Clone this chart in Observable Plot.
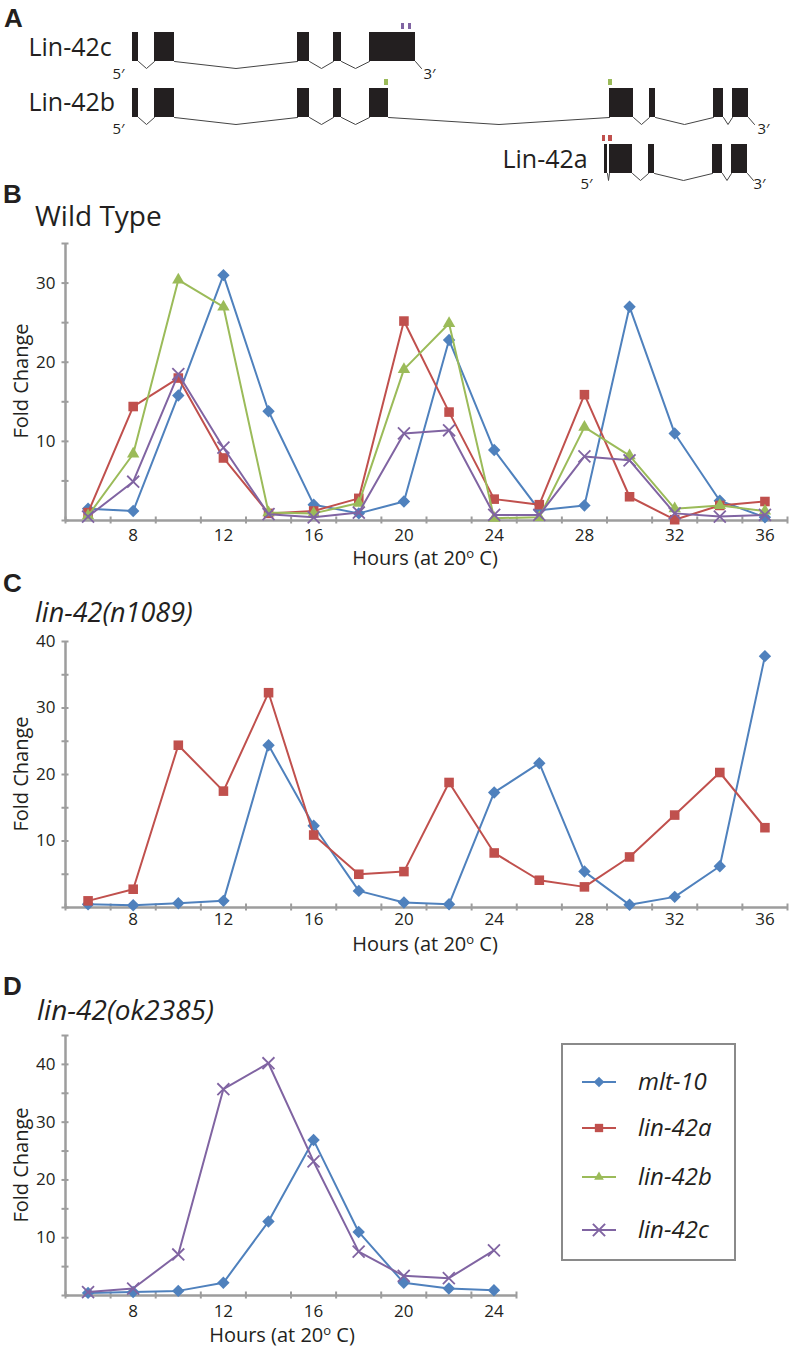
<!DOCTYPE html>
<html><head><meta charset="utf-8">
<script src="https://cdn.jsdelivr.net/npm/d3@7"></script>
<script src="https://cdn.jsdelivr.net/npm/@observablehq/plot@0.6"></script>
<style>
html,body{margin:0;padding:0;background:#fff;}
#page{position:relative;width:789px;height:1349px;overflow:hidden;font-family:"Open Sans",sans-serif;background:#fff;}
.panel{position:absolute;left:0;}
#overlay{position:absolute;left:0;top:0;pointer-events:none;}
</style></head><body><div id="page"></div>
<script>
// ================= DATA =================
const seriesNames = ["mlt-10", "lin-42a", "lin-42b", "lin-42c"];
const seriesColors = ["#4F81BD", "#C0504D", "#9BBB59", "#8064A2"];
const seriesSymbols = ["diamond2", "square", "triangle", "times"];

const hours = [6, 8, 10, 12, 14, 16, 18, 20, 22, 24, 26, 28, 30, 32, 34, 36];
const hoursOk = [6, 8, 10, 12, 14, 16, 18, 20, 22, 24];

// B: Wild Type
const wtMlt10  = [1.5, 1.2, 15.8, 31.0, 13.8, 2.0, 0.9, 2.4, 22.8, 8.9, 1.3, 1.9, 27.0, 11.0, 2.5, 0.4];
const wtLin42a = [1.0, 14.4, 18.0, 7.9, 0.9, 1.2, 2.8, 25.2, 13.7, 2.7, 2.0, 15.9, 3.0, 0.1, 1.9, 2.4];
const wtLin42b = [0.6, 8.4, 30.4, 27.0, 1.0, 0.9, 2.2, 19.1, 24.9, 0.3, 0.4, 11.8, 8.2, 1.5, 1.9, 1.2];
const wtLin42c = [0.5, 4.9, 18.5, 9.2, 0.8, 0.4, 1.0, 11.0, 11.4, 0.7, 0.7, 8.1, 7.6, 0.9, 0.5, 0.7];

// C: lin-42(n1089)
const n1089Mlt10  = [0.5, 0.35, 0.65, 1.0, 24.4, 12.3, 2.5, 0.75, 0.5, 17.3, 21.7, 5.4, 0.4, 1.6, 6.2, 37.8];
const n1089Lin42a = [1.0, 2.75, 24.4, 17.5, 32.3, 10.9, 5.0, 5.4, 18.8, 8.2, 4.1, 3.1, 7.6, 13.9, 20.3, 12.0];

// D: lin-42(ok2385)
const okMlt10  = [0.45, 0.6, 0.8, 2.2, 12.8, 26.9, 11.0, 2.2, 1.2, 0.9];
const okLin42c = [0.6, 1.2, 7.1, 35.7, 40.2, 23.2, 7.6, 3.4, 3.0, 7.8];

// axis ticks / labels
const xTickMarksLong  = [5, 7, 9, 11, 13, 15, 17, 19, 21, 23, 25, 27, 29, 31, 33, 35, 37];
const xTickLabelsLong = [8, 12, 16, 20, 24, 28, 32, 36];
const xTickMarksShort  = [5, 7, 9, 11, 13, 15, 17, 19, 21, 23, 25];
const xTickLabelsShort = [8, 12, 16, 20, 24];
const yTickMarksWT   = [0, 5, 10, 15, 20, 25, 30, 35];
const yTickLabelsWT  = [10, 20, 30];
const yTickMarksN    = [0, 5, 10, 15, 20, 25, 30, 35, 40];
const yTickLabelsN   = [10, 20, 30, 40];
const yTickMarksOk   = [0, 5, 10, 15, 20, 25, 30, 35, 40, 45];
const yTickLabelsOk  = [10, 20, 30, 40];

// A: gene models (diagram units)
const transcripts = ["Lin-42c", "Lin-42b", "Lin-42a"];
const lin42cExons = [[132, 138], [154, 174], [297, 309], [333, 341], [369, 415]];
const lin42bExons = [[132, 138], [154, 174], [297, 309], [333, 341], [369, 388], [609, 633], [649, 655], [713, 723], [732, 748]];
const lin42aExons = [[604, 607], [609, 632], [648, 654], [712, 722], [731, 747]];
const lin42cPrimers = [[401, 404], [408, 411]];
const lin42bPrimers = [[384, 388], [608, 612]];
const lin42aPrimers = [[602, 605], [608, 612]];
const primerColors = ["#8064A2", "#9BBB59", "#C0504D"];

// ================= STYLE =================
const axisGray = "#9d9d9d";
const ink = "#231f20";
const symbolR = [5.6, 5.4, 4.6, 5.5];

const page = document.getElementById("page");

// ---------- Panel A : gene diagram ----------
(function () {
  const rowTop = [32, 88, 144], exonH = 29, dip = 7;
  const exonSets = [lin42cExons, lin42bExons, lin42aExons];
  const primerSets = [lin42cPrimers, lin42bPrimers, lin42aPrimers];
  const exons = [], introns = [], tails = [], primers = [];
  exonSets.forEach((ex, r) => {
    const top = rowTop[r], bot = top + exonH;
    ex.forEach(([s, e]) => exons.push({s, e, top, bot}));
    for (let i = 0; i + 1 < ex.length; i++) {
      const a = ex[i][1], b = ex[i + 1][0], id = r + "-" + i;
      introns.push({id, x: a, y: bot}, {id, x: (a + b) / 2, y: bot + dip}, {id, x: b, y: bot});
    }
    const last = ex[ex.length - 1][1];
    tails.push({id: "t" + r, x: last, y: bot}, {id: "t" + r, x: last + 6, y: bot + dip});
    primerSets[r].forEach(([s, e]) => primers.push({s, e, top: top - 9, bot: top - 3, color: primerColors[r]}));
  });
  const labels = [
    {t: "Lin-42c", x: 28, y: 55}, {t: "Lin-42b", x: 28, y: 110}, {t: "Lin-42a", x: 502, y: 167}
  ];
  const ends = [
    {t: "5\u2032", x: 112, y: 78}, {t: "3\u2032", x: 423, y: 78},
    {t: "5\u2032", x: 112, y: 133}, {t: "3\u2032", x: 757, y: 133},
    {t: "5\u2032", x: 580, y: 188}, {t: "3\u2032", x: 753, y: 188}
  ];
  const chart = Plot.plot({
    width: 789, height: 195, margin: 0,
    x: {domain: [0, 789], range: [0, 789], axis: null},
    y: {domain: [0, 195], range: [0, 195], axis: null},
    style: {background: "none", fontFamily: "Open Sans", overflow: "visible"},
    marks: [
      Plot.line(introns, {x: "x", y: "y", z: "id", stroke: "#444", strokeWidth: 1}),
      Plot.line(tails, {x: "x", y: "y", z: "id", stroke: "#444", strokeWidth: 1}),
      Plot.rect(exons, {x1: "s", x2: "e", y1: "top", y2: "bot", fill: ink}),
      Plot.rect(primers, {x1: "s", x2: "e", y1: "top", y2: "bot", fill: d => d.color}),
      Plot.text(labels, {x: "x", y: "y", text: "t", textAnchor: "start", lineAnchor: "bottom", fontSize: 25, fill: ink}),
      Plot.text(ends, {x: "x", y: "y", text: "t", textAnchor: "start", lineAnchor: "bottom", fontSize: 15, fill: ink})
    ]
  });
  const w = document.createElement("div");
  w.className = "panel"; w.style.top = "0px";
  w.appendChild(chart); page.appendChild(w);
})();

// ---------- Line chart panels ----------
function toRows(xs, values, name) {
  return xs.map((h, i) => ({hour: h, value: values[i], series: name}));
}
function seriesMarks(rows, k) {
  const color = seriesColors[k], sym = seriesSymbols[k];
  const dot = sym === "times"
    ? Plot.dot(rows, {x: "hour", y: "value", symbol: sym, r: symbolR[k], stroke: color, strokeWidth: 1.8})
    : Plot.dot(rows, {x: "hour", y: "value", symbol: sym, r: symbolR[k], fill: color, stroke: "none"});
  return [Plot.line(rows, {x: "hour", y: "value", stroke: color, strokeWidth: 2}), dot];
}
function lineChart(cfg) {
  const x0 = cfg.xDomain[0];
  const marks = [
    Plot.ruleX([x0], {stroke: axisGray, strokeWidth: 2.5}),
    Plot.ruleY([0], {stroke: axisGray, strokeWidth: 2.5}),
    Plot.ruleX(cfg.xMarks, {y1: 0, y2: 0, insetTop: -3.5, insetBottom: -3.5, stroke: axisGray, strokeWidth: 2}),
    Plot.ruleY(cfg.yMarks, {x1: x0, x2: x0, insetLeft: -3.5, insetRight: -3.5, stroke: axisGray, strokeWidth: 2}),
    Plot.axisX({ticks: cfg.xLabels, tickSize: 0, tickPadding: cfg.xPad, label: null, fill: ink, fontSize: 17}),
    Plot.axisY({ticks: cfg.yLabels, tickSize: 0, tickPadding: 10, label: null, fill: ink, fontSize: 17})
  ];
  cfg.series.forEach(s => marks.push(...seriesMarks(toRows(cfg.hours, s.values, seriesNames[s.k]), s.k)));
  const chart = Plot.plot({
    width: 789, height: cfg.height,
    marginTop: 13, marginBottom: 30, marginLeft: 65, marginRight: cfg.marginRight,
    x: {domain: cfg.xDomain},
    y: {domain: cfg.yDomain},
    style: {background: "none", fontFamily: "Open Sans", fontSize: "17px", color: ink, overflow: "visible"},
    marks
  });
  const w = document.createElement("div");
  w.className = "panel"; w.style.top = cfg.top + "px";
  w.appendChild(chart); page.appendChild(w);
}

lineChart({
  top: 230, height: 320, marginRight: 2, xDomain: [5, 37], yDomain: [0, 35], xPad: 8,
  hours, xMarks: xTickMarksLong, xLabels: xTickLabelsLong, yMarks: yTickMarksWT, yLabels: yTickLabelsWT,
  series: [{k: 0, values: wtMlt10}, {k: 1, values: wtLin42a}, {k: 2, values: wtLin42b}, {k: 3, values: wtLin42c}]
});
lineChart({
  top: 628, height: 309, marginRight: 2, xDomain: [5, 37], yDomain: [0, 40], xPad: 5,
  hours, xMarks: xTickMarksLong, xLabels: xTickLabelsLong, yMarks: yTickMarksN, yLabels: yTickLabelsN,
  series: [{k: 0, values: n1089Mlt10}, {k: 1, values: n1089Lin42a}]
});
lineChart({
  top: 1022, height: 303, marginRight: 273, xDomain: [5, 25], yDomain: [0, 45], xPad: 9,
  hours: hoursOk, xMarks: xTickMarksShort, xLabels: xTickLabelsShort, yMarks: yTickMarksOk, yLabels: yTickLabelsOk,
  series: [{k: 0, values: okMlt10}, {k: 3, values: okLin42c}]
});

// ---------- Overlay: panel letters, titles, axis titles, legend ----------
const svg = d3.select("#page").append("svg").attr("id", "overlay").attr("width", 789).attr("height", 1349);
function text(x, y, str, o = {}) {
  return svg.append("text").attr("x", x).attr("y", y).text(str)
    .attr("font-family", o.family || "Open Sans").attr("font-size", o.size || 16)
    .attr("font-weight", o.weight || "normal").attr("font-style", o.style || "normal")
    .attr("text-anchor", o.anchor || "start").attr("fill", ink);
}
const letters = [["A", 4, 27], ["B", 3, 203], ["C", 3, 592], ["D", 3, 995]];
letters.forEach(([t, x, y]) => text(x, y, t, {family: "Liberation Sans", size: 26, weight: "bold"}));

text(35, 226, "Wild Type", {size: 28});
text(35, 622, "lin-42(n1089)", {size: 27, style: "italic"});
text(37, 1020, "lin-42(ok2385)", {size: 28, style: "italic"});

[[381, 28], [774, 28], [1165, 28]].forEach(([cy, bx]) => {
  svg.append("text").attr("transform", `translate(${bx},${cy}) rotate(-90)`)
    .attr("text-anchor", "middle").attr("font-family", "Open Sans").attr("font-size", 20)
    .attr("fill", ink).text("Fold Change");
});

function hoursTitle(cx, y) {
  const t = svg.append("text").attr("x", cx).attr("y", y).attr("text-anchor", "middle")
    .attr("font-family", "Open Sans").attr("font-size", 20).attr("fill", ink);
  t.append("tspan").text("Hours (at 20");
  t.append("tspan").attr("dy", -7).attr("font-size", 13).text("o");
  t.append("tspan").attr("dy", 7).text(" C)");
}
hoursTitle(425, 565);
hoursTitle(425, 951);
hoursTitle(282, 1342);

// legend
svg.append("rect").attr("x", 562).attr("y", 1044).attr("width", 173).attr("height", 216)
  .attr("fill", "#fff").attr("stroke", "#8a8a8a").attr("stroke-width", 2);
const legendY = [1082, 1128, 1177, 1230];
const legendSymR = [4.8, 4.7, 3.6, 5.6];
const d3Sym = {diamond2: d3.symbolDiamond2, square: d3.symbolSquare, triangle: d3.symbolTriangle, times: d3.symbolTimes};
seriesNames.forEach((name, k) => {
  const y = legendY[k];
  svg.append("line").attr("x1", 582).attr("x2", 616).attr("y1", y).attr("y2", y)
    .attr("stroke", seriesColors[k]).attr("stroke-width", 2);
  const p = svg.append("path").attr("transform", `translate(599,${y})`)
    .attr("d", d3.symbol(d3Sym[seriesSymbols[k]], Math.PI * legendSymR[k] ** 2)());
  if (seriesSymbols[k] === "times") p.attr("fill", "none").attr("stroke", seriesColors[k]).attr("stroke-width", 2);
  else p.attr("fill", seriesColors[k]);
  text(638, y + 8, name, {size: 24, style: "italic"});
});
</script></body></html>
